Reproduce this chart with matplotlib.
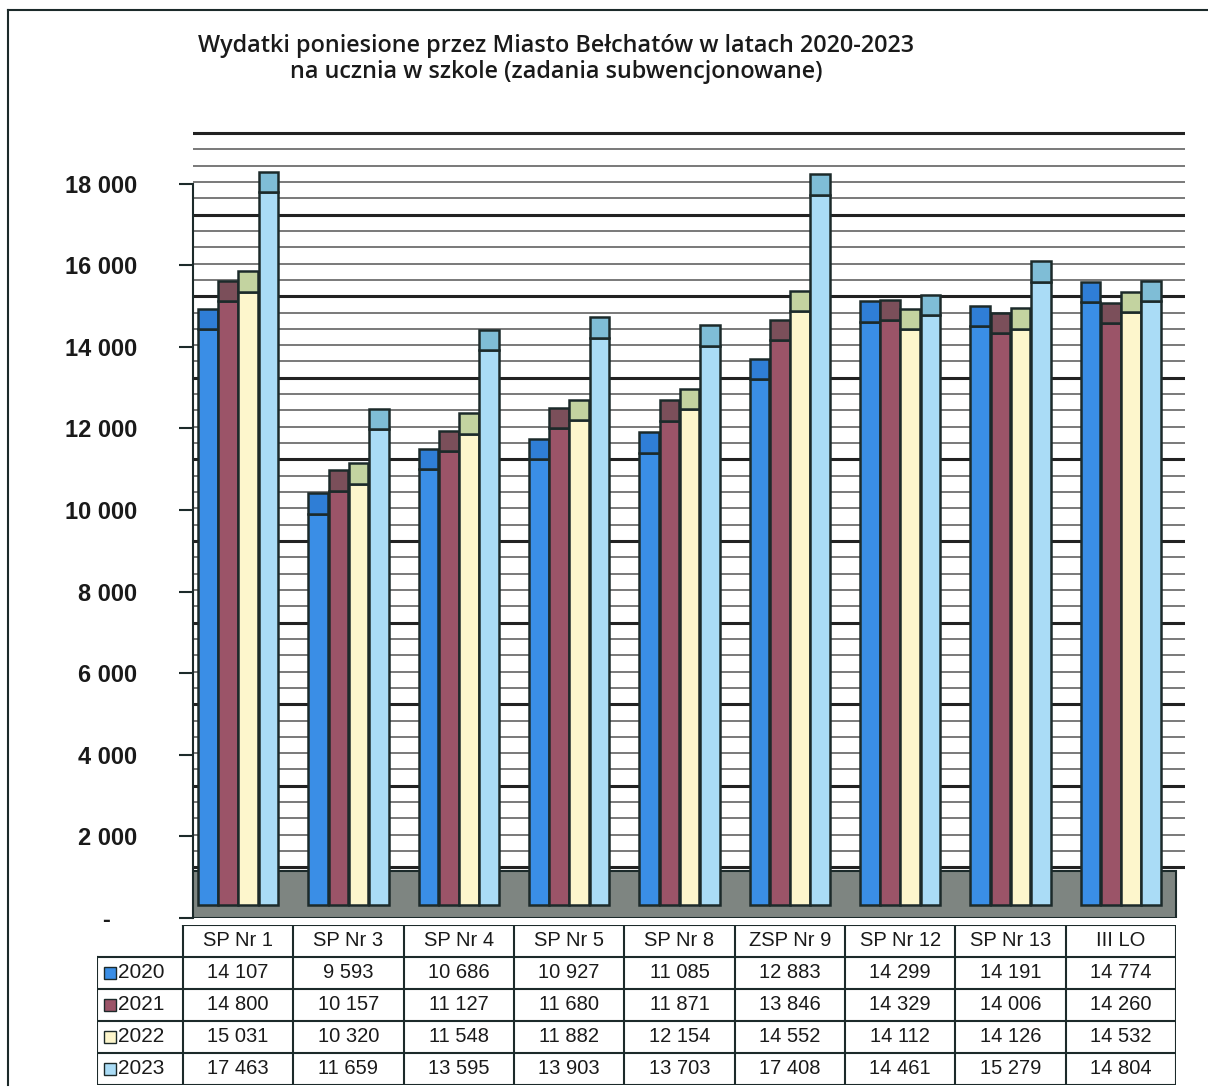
import matplotlib.pyplot as plt
from matplotlib.patches import Rectangle
from matplotlib.ticker import FuncFormatter

# Data
schools = ['SP Nr 1', 'SP Nr 3', 'SP Nr 4', 'SP Nr 5', 'SP Nr 8', 'ZSP Nr 9', 'SP Nr 12', 'SP Nr 13', 'III LO']
years = ['2020', '2021', '2022', '2023']
v2020 = [14107, 9593, 10686, 10927, 11085, 12883, 14299, 14191, 14774]
v2021 = [14800, 10157, 11127, 11680, 11871, 13846, 14329, 14006, 14260]
v2022 = [15031, 10320, 11548, 11882, 12154, 14552, 14112, 14126, 14532]
v2023 = [17463, 11659, 13595, 13903, 13703, 17408, 14461, 15279, 14804]
series = [v2020, v2021, v2022, v2023]

# Styling
body_colors = ['#3a8ee6', '#9b5468', '#fdf6cc', '#aadcf6']
cap_colors = ['#2f7ed6', '#7b4f5a', '#c3d3a0', '#7fbdd6']
edge = '#1c2a2a'
floor_color = '#7e8581'
text_color = '#1a1a1a'
floor_front = 320     # 3D look: bars stand a bit above the front edge of the floor
floor_back = 1150
cap_height = 500
wall_offset = 1240    # back-wall gridlines sit higher than the axis ticks

plt.rcParams['font.family'] = ['Liberation Sans', 'DejaVu Sans']

W, H = 1208, 1088
fig = plt.figure(figsize=(W / 100, H / 100), dpi=100)

def px_axes(x0, y0, x1, y1):
    # axes placed by pixel box (top-left origin)
    return fig.add_axes([x0 / W, 1 - y1 / H, (x1 - x0) / W, (y1 - y0) / H])

unit = (1176 - 183) / 9  # pixels per category

# Main chart
ax = px_axes(193, 125, 1185, 918)
ax.set_xlim(-0.5 + 10 / unit, -0.5 + 1002 / unit)
ax.set_ylim(0, 793 / 40.8 * 1000)

# gridlines on the back wall
y = wall_offset
k = 0
while y <= 19300:
    major = (k % 5 == 0)
    ax.axhline(y, color='#222222' if major else '#555555', lw=2.2 if major else 1.1, zorder=1)
    y += 400
    k += 1

# floor
ax.add_patch(Rectangle((-0.5 + 4 / unit - 0.1, 0), 9.1 - 4 / unit, floor_back,
                       facecolor=floor_color, edgecolor=edge, lw=1.5, zorder=2))

bar_w = 0.178
for j, vals in enumerate(series):
    xs = [i + (j - 1.5) * 0.183 for i in range(len(schools))]
    ax.bar(xs, vals, width=bar_w, bottom=floor_front, color=body_colors[j],
           edgecolor=edge, linewidth=1.8, zorder=3)
    tops = [v + floor_front for v in vals]
    ax.bar(xs, [cap_height] * len(vals), width=bar_w, bottom=tops, color=cap_colors[j],
           edgecolor=edge, linewidth=1.8, zorder=3)

for s in ['top', 'right', 'bottom']:
    ax.spines[s].set_visible(False)
ax.spines['left'].set_bounds(0, 18000)
ax.spines['left'].set_linewidth(1.5)
ax.spines['left'].set_color(edge)
ax.set_xticks([])
ax.set_yticks(range(0, 18001, 2000))
ax.yaxis.set_major_formatter(FuncFormatter(
    lambda v, p: '-    ' if v == 0 else f'{int(v):,}'.replace(',', ' ')))
ax.tick_params(axis='y', length=10, width=1.5, color=edge, pad=30,
               labelsize=17, labelcolor=text_color)
for lbl in ax.get_yticklabels():
    lbl.set_fontweight('bold')

# Data table with legend keys
tab = px_axes(97, 925, 1176, 1085)
tab.set_xlim(-0.5 - 86 / unit, 8.5)
tab.set_ylim(5, 0)
tab.axis('off')
x_left = -0.5 - 86 / unit
tab.plot([-0.5, 8.5], [0, 0], color=edge, lw=1.5)
for r in range(1, 6):
    tab.plot([x_left, 8.5], [r, r], color=edge, lw=1.5)
tab.plot([x_left, x_left], [1, 5], color=edge, lw=1.5)
for c in range(10):
    tab.plot([c - 0.5, c - 0.5], [0, 5], color=edge, lw=1.5)

for i, name in enumerate(schools):
    tab.text(i, 0.5, name, ha='center', va='center', fontsize=14.5, color=text_color)
for j, vals in enumerate(series):
    tab.add_patch(Rectangle((x_left + 7 / unit, j + 1.5 - 0.19), 12 / unit, 0.38,
                            facecolor=body_colors[j], edgecolor=edge, lw=1))
    tab.text(x_left + 21 / unit, j + 1.5, years[j], ha='left', va='center',
             fontsize=15, color=text_color)
    for i, v in enumerate(vals):
        tab.text(i, j + 1.5, f'{v:,}'.replace(',', ' '), ha='center', va='center',
                 fontsize=14.5, color=text_color)

# Title
fig.text(556 / W, 1 - 59 / H,
         'Wydatki poniesione przez Miasto Bełchatów w latach 2020-2023\n'
         'na ucznia w szkole (zadania subwencjonowane)',
         ha='center', va='center', fontsize=16.8, fontweight='semibold',
         family=['Open Sans', 'DejaVu Sans'], color=text_color, linespacing=1.15)

# Frame around the chart
fig.add_artist(plt.Line2D([8 / W, 1], [1 - 10 / H, 1 - 10 / H], color=edge, lw=1.5))
fig.add_artist(plt.Line2D([8 / W, 8 / W], [1 - 10 / H, 1 - 1085 / H], color=edge, lw=1.5))

plt.savefig('out.png', dpi=100)
plt.close()
